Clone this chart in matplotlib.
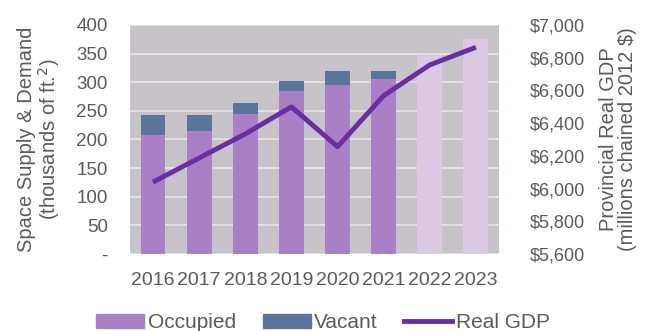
import matplotlib.pyplot as plt
from matplotlib.patches import Patch
from matplotlib.lines import Line2D
from matplotlib.ticker import FuncFormatter

plt.rcParams['font.family'] = ['Liberation Sans', 'DejaVu Sans']

# space supply & demand (thousands of sq ft) and provincial real GDP
years = ['2016', '2017', '2018', '2019', '2020', '2021', '2022', '2023']
occupied = [208, 214, 245, 285, 296, 305]
vacant = [35, 29, 19, 18, 24, 15]
projected = [348, 375]
gdp = [6040, 6187, 6334, 6500, 6256, 6568, 6756, 6864]

bg_col = '#c7c3c8'
occ_col = '#a97fc6'
vac_col = '#5b769b'
proj_col = '#dbc9e4'
line_col = '#6a2ea4'
txt_col = '#5a5a5a'

fig = plt.figure(figsize=(6.46, 3.31), dpi=100)
ax = fig.add_axes([0.2012, 0.2326, 0.5712, 0.6919])
ax.set_facecolor(bg_col)

x = list(range(len(years)))
w = 0.54
n = len(occupied)
ax.bar(x[:n], occupied, width=w, color=occ_col, zorder=2)
ax.bar(x[:n], vacant, width=w, bottom=occupied, color=vac_col, zorder=2)
ax.bar(x[n:], projected, width=w, color=proj_col, zorder=2)

ax.set_xlim(-0.5, len(years) - 0.5)
ax.set_ylim(0, 400)
ax.set_yticks(range(0, 401, 50))
ax.set_yticklabels(['-'] + [str(v) for v in range(50, 401, 50)])
ax.set_xticks(x)
ax.set_xticklabels(years)
ax.grid(axis='y', color='#e2dfe2', linewidth=1.4, zorder=1)
ax.set_axisbelow(True)
for s in ax.spines.values():
    s.set_visible(False)
ax.tick_params(axis='y', length=0, pad=16, labelsize=13.5, colors=txt_col)
ax.tick_params(axis='x', length=0, pad=13, labelsize=14, colors=txt_col)
ax.set_ylabel('Space Supply & Demand\n(thousands of ft.$^2$)', fontsize=14.5,
              color=txt_col, labelpad=10, linespacing=1.0)

ax2 = ax.twinx()
ax2.plot(x, gdp, color=line_col, linewidth=3.5, solid_capstyle='butt', zorder=3)
ax2.set_ylim(5600, 7000)
ax2.set_yticks(range(5600, 7001, 200))
ax2.yaxis.set_major_formatter(FuncFormatter(lambda v, p: '${:,.0f}'.format(v)))
for s in ax2.spines.values():
    s.set_visible(False)
ax2.tick_params(axis='y', length=0, pad=22, labelsize=13, colors=txt_col)
ax2.set_ylabel('Provincial Real GDP\n(millions chained 2012 $)', fontsize=14.5,
               color=txt_col, rotation=90, labelpad=10, linespacing=1.0)

handles = [Patch(color=occ_col, label='Occupied'),
           Patch(color=vac_col, label='Vacant'),
           Line2D([0], [0], color=line_col, linewidth=3.5, label='Real GDP')]
leg = fig.legend(handles=handles, loc='lower center', ncol=3, frameon=False,
                 bbox_to_anchor=(0.5, -0.06), fontsize=15, handlelength=2.3,
                 handleheight=0.65, handletextpad=0.15, columnspacing=1.3)
for t in leg.get_texts():
    t.set_color(txt_col)

fig.savefig('out.png', dpi=100)
